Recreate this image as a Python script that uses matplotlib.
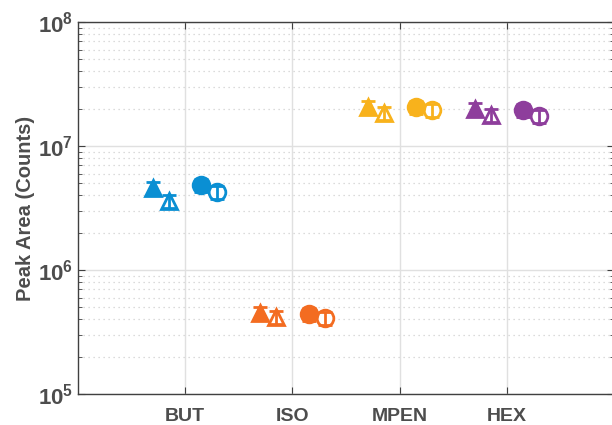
import matplotlib
matplotlib.use("Agg")
import matplotlib.pyplot as plt
import numpy as np

plt.rcParams['font.family'] = ['Liberation Sans', 'DejaVu Sans']
plt.rcParams['mathtext.fontset'] = 'custom'
plt.rcParams['mathtext.bf'] = 'Liberation Sans:bold'
plt.rcParams['mathtext.rm'] = 'Liberation Sans:bold'

categories = ["BUT", "ISO", "MPEN", "HEX"]
colors = ["#0a8fd3", "#f36c21", "#f8b21c", "#8e3e9c"]

# four measurements per compound: filled/open triangle, filled/open circle
tri_fill = [4.6e6, 4.5e5, 2.07e7, 2.0e7]
tri_open = [3.6e6, 4.2e5, 1.85e7, 1.78e7]
circ_fill = [4.85e6, 4.4e5, 2.07e7, 1.95e7]
circ_open = [4.25e6, 4.1e5, 1.95e7, 1.75e7]
rel_err = 0.12

fig = plt.figure(figsize=(6.12, 4.25), dpi=100)
ax = fig.add_axes([0.1275, 0.073, 0.876, 0.875])

x = np.arange(1, len(categories) + 1)
series = [(tri_fill, -0.3, '^', True), (tri_open, -0.15, '^', False),
          (circ_fill, 0.15, 'o', True), (circ_open, 0.3, 'o', False)]

for vals, off, mk, filled in series:
    for i in range(len(categories)):
        c = colors[i]
        ax.plot(x[i] + off, vals[i], marker=mk, markersize=12,
                markerfacecolor=c if filled else 'white',
                markeredgecolor=c, markeredgewidth=2, linestyle='none',
                zorder=5 if filled else 3)
        ax.errorbar(x[i] + off, vals[i], yerr=[[vals[i] * rel_err], [vals[i] * rel_err]],
                    fmt='none', ecolor=c, elinewidth=2, capsize=5, capthick=2, zorder=4)

ax.set_yscale('log')
ax.set_ylim(1e5, 1e8)
ax.set_xlim(0, 5)
ax.set_xticks(x)
ax.set_xticklabels(categories)
ax.set_yticks([1e5, 1e6, 1e7, 1e8])
ax.set_yticklabels([r'$\mathbf{10^{5}}$', r'$\mathbf{10^{6}}$', r'$\mathbf{10^{7}}$', r'$\mathbf{10^{8}}$'])

ax.grid(True, which='major', color='#e0e0e0', linewidth=1, linestyle='-')
ax.grid(True, which='minor', axis='y', color='#d0d0d0', linewidth=0.9, linestyle=(0, (1, 3)))
ax.set_axisbelow(True)

for s in ax.spines.values():
    s.set_color('#404040')
    s.set_linewidth(1)
ax.tick_params(which='both', direction='in', top=True, right=True, colors='#404040',
               labelcolor='#4d4d4d')
ax.tick_params(which='major', length=5, labelsize=16)
ax.tick_params(which='minor', length=3)
ax.tick_params(axis='x', pad=10)
for lab in ax.get_xticklabels():
    lab.set_fontweight('bold')
    lab.set_fontsize(14)

ax.set_ylabel("Peak Area (Counts)", fontsize=14.5, fontweight='bold', color='#4d4d4d', labelpad=2)

fig.savefig("out.png", dpi=100)
